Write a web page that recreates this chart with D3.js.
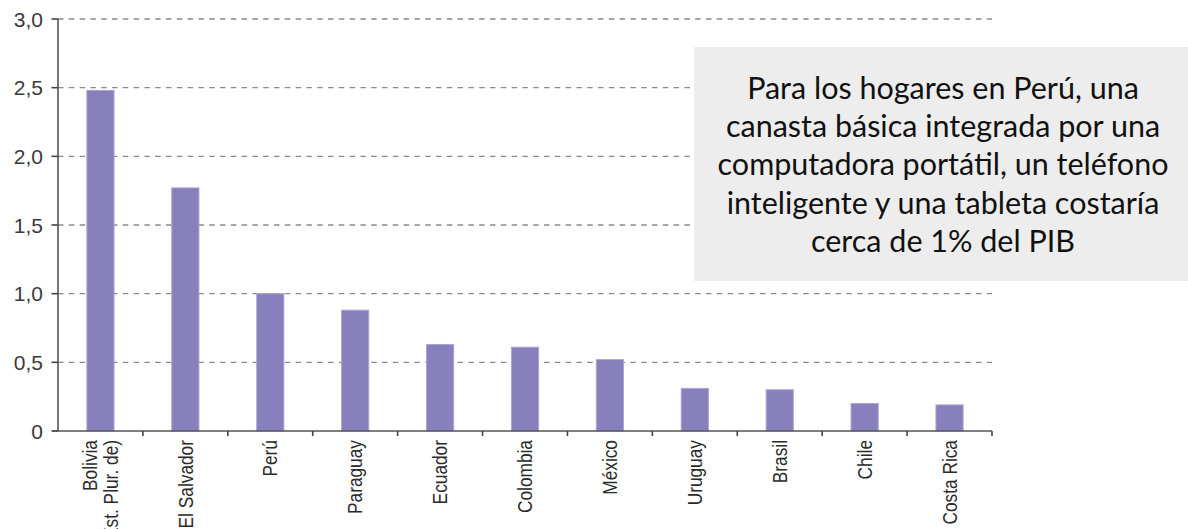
<!DOCTYPE html>
<html>
<head>
<meta charset="utf-8">
<script src="https://cdn.jsdelivr.net/npm/d3@7"></script>
<style>
  html, body { margin: 0; padding: 0; background: #fff; }
  svg { display: block; }
</style>
</head>
<body>
<script>
const categories = ["Bolivia\n(Est. Plur. de)", "El Salvador", "Perú", "Paraguay", "Ecuador", "Colombia", "México", "Uruguay", "Brasil", "Chile", "Costa Rica"];
const values = [2.48, 1.77, 1.0, 0.88, 0.63, 0.61, 0.52, 0.31, 0.30, 0.20, 0.19];
const yTicks = [0, 0.5, 1.0, 1.5, 2.0, 2.5, 3.0];
const yTickLabels = ["0", "0,5", "1,0", "1,5", "2,0", "2,5", "3,0"];
const noteLines = ["Para los hogares en Perú, una", "canasta básica integrada por una", "computadora portátil, un teléfono", "inteligente y una tableta costaría", "cerca de 1% del PIB"];

const W = 1188, H = 529;
const x0 = 58, x1 = 992, yTop = 19, yBot = 431;
const narrow = "'Liberation Sans Narrow', 'Arial Narrow', 'Liberation Sans', Arial, sans-serif";

const svg = d3.select("body").append("svg").attr("width", W).attr("height", H);

const x = d3.scaleBand().domain(categories).range([x0, x1]).paddingInner(0.68).paddingOuter(0.34);
const xb = d3.scaleBand().domain(categories).range([x0, x1]);
const y = d3.scaleLinear().domain([0, 3]).range([yBot, yTop]);

// gridlines
svg.append("g").selectAll("line").data(yTicks.filter(d => d > 0)).join("line")
  .attr("x1", x0).attr("x2", x1)
  .attr("y1", d => y(d)).attr("y2", d => y(d))
  .attr("stroke", "#8a8a8a").attr("stroke-width", 1.4)
  .attr("stroke-dasharray", "5.5,5.3");

// bars
svg.append("g").selectAll("rect").data(values).join("rect")
  .attr("x", (d, i) => x(categories[i]))
  .attr("width", x.bandwidth())
  .attr("y", d => y(d))
  .attr("height", d => y(0) - y(d))
  .attr("fill", "#8780bc")
  .attr("stroke", "#aaa5d3").attr("stroke-width", 1);

// y axis
svg.append("line").attr("x1", x0).attr("x2", x0).attr("y1", yTop).attr("y2", yBot)
  .attr("stroke", "#555").attr("stroke-width", 1.6);
const yg = svg.append("g");
yg.selectAll("line").data(yTicks).join("line")
  .attr("x1", x0 - 6.5).attr("x2", x0).attr("y1", d => y(d)).attr("y2", d => y(d))
  .attr("stroke", "#444").attr("stroke-width", 1.6);
yg.selectAll("text").data(yTicks).join("text")
  .attr("x", x0 - 15).attr("y", d => y(d)).attr("dy", "0.36em")
  .attr("text-anchor", "end")
  .attr("font-family", narrow).attr("font-size", 21).attr("fill", "#3a3a3a")
  .text((d, i) => yTickLabels[i]);

// x axis
svg.append("line").attr("x1", x0 - 6).attr("x2", x1).attr("y1", yBot).attr("y2", yBot)
  .attr("stroke", "#555").attr("stroke-width", 1.6);
const boundaries = categories.map(c => xb(c) + xb.bandwidth());
svg.append("g").selectAll("line").data(boundaries).join("line")
  .attr("x1", d => d).attr("x2", d => d).attr("y1", yBot).attr("y2", yBot + 5)
  .attr("stroke", "#444").attr("stroke-width", 1.6);

// x labels
const xl = svg.append("g").selectAll("text").data(categories).join("text")
  .attr("transform", d => `translate(${xb(d) + xb.bandwidth() / 2},440) rotate(-90) scale(0.865,1)`)
  .attr("text-anchor", "end")
  .attr("font-family", narrow).attr("font-size", 20).attr("fill", "#2a2a2a");
xl.each(function(d) {
  const lines = d.split("\n");
  const t = d3.select(this);
  const lh = 21.5;
  lines.forEach((ln, k) => {
    t.append("tspan").attr("x", 0)
      .attr("y", (k - (lines.length - 1) / 2) * lh)
      .attr("dy", "0.36em").text(ln);
  });
});

// annotation box
svg.append("rect").attr("x", 694).attr("y", 47).attr("width", 498).attr("height", 234)
  .attr("fill", "#ededed");
svg.append("g").selectAll("text").data(noteLines).join("text")
  .attr("x", 943).attr("y", (d, i) => 99 + i * 38.2)
  .attr("text-anchor", "middle")
  .attr("font-family", "Lato, 'Open Sans', sans-serif").attr("font-size", 30.5)
  .attr("fill", "#111")
  .text(d => d);
</script>
</body>
</html>
